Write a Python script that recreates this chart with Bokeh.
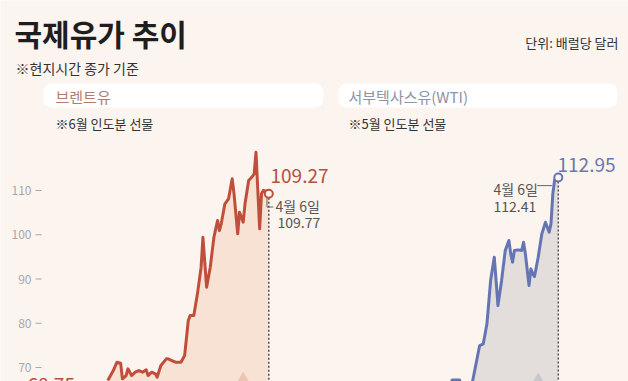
from bokeh.plotting import figure
from bokeh.models import Range1d, Label, BoxAnnotation
from bokeh.core.properties import value
from bokeh.embed import file_html
from bokeh.resources import INLINE

# ---------------- data ----------------
brent_days = [0, 3, 5, 7, 8, 10, 11, 13, 15, 17, 19, 21, 22, 24, 26, 27, 29, 32, 33, 35,
              37, 40, 42, 44, 45, 47, 49, 51, 52, 54, 56, 58, 59, 60, 61, 62, 64, 66, 67, 68,
              69, 71, 72, 73, 74, 75, 77, 79, 80, 81, 82, 83, 84, 85, 87, 88]
brent_price = [67.06, 69.32, 71.20, 70.98, 67.44, 68.19, 69.70, 68.19, 68.94, 69.32,
               68.94, 69.47, 68.19, 68.94, 68.57, 67.82, 70.45, 71.96, 71.96, 71.58,
               71.20, 71.20, 72.71, 80.62, 81.75, 81.75, 86.65, 92.67, 99.45, 88.15,
               92.67, 99.45, 101.34, 103.22, 100.96, 102.47, 106.99, 108.12, 110.38, 112.64,
               109.25, 100.21, 105.10, 103.97, 102.84, 106.99, 112.26, 113.16, 113.77, 118.66,
               110.00, 101.34, 109.25, 110.00, 109.77, 109.27]
brent_start_label = "68.75"

wti_days = [25, 27, 31, 33, 37, 42, 44, 46, 48, 50, 51, 52, 54, 56, 58, 59, 60, 61, 63, 65,
            66, 67, 69, 70, 71, 72, 74, 76, 78, 80, 81, 82, 83, 85]
wti_price = [64.50, 67.20, 67.20, 64.00, 64.50, 74.97, 75.35, 79.87, 89.66, 94.93,
             89.66, 84.01, 89.66, 96.44, 98.70, 95.69, 93.81, 96.44, 96.59, 96.44,
             98.32, 95.69, 88.53, 92.29, 91.17, 90.56, 94.93, 100.21, 102.84, 100.59,
             102.47, 109.25, 112.41, 112.95]

event_day = 74          # event marker (triangle) on both panels

y_ticks = [70, 80, 90, 100, 110]
y_tick_labels = ["70", "80", "90", "100", "110"]

title_text = "국제유가 추이"
subtitle_text = "※현지시간 종가 기준"
unit_text = "단위: 배럴당 달러"
panel_names = ["브렌트유", "서부텍사스유(WTI)"]
panel_notes = ["※6월 인도분 선물", "※5월 인도분 선물"]
prev_date = "4월 6일"

# ---------------- style ----------------
BG = "#FCF4EE"
RED = "#BF4F3B"
RED_TXT = "#B5513F"
RED_FILL = "#F8E2D3"
RED_MARK = "#ECC4B4"
BLUE = "#6574B3"
BLUE_TXT = "#6A78B0"
BLUE_FILL = "#E3DEDC"
BLUE_MARK = "#CAC6CE"
FONT = "Noto Sans CJK KR"
W, H = 628, 381

p = figure(width=W, height=H, output_backend="svg", toolbar_location=None,
           x_range=Range1d(-58.65, 284.61), y_range=Range1d(66.84, 152.94),
           x_axis_type=None, y_axis_type=None,
           min_border_left=0, min_border_right=0, min_border_top=0, min_border_bottom=0)
p.extra_x_ranges = {"wti": Range1d(-219.9, 123.37)}
p.background_fill_color = BG
p.border_fill_color = BG
p.outline_line_color = None
p.xgrid.visible = False
p.ygrid.visible = False

# y axis (labels + small tick dashes), drawn from the tick arrays
axis_x = -41.7
p.text(x=[axis_x] * len(y_ticks), y=y_ticks, text=y_tick_labels,
       text_align="right", text_baseline="middle", text_color="#A8A8A8",
       text_font=value(FONT), text_font_size="12px")
p.segment(x0=[axis_x + 2.2] * len(y_ticks), y0=y_ticks,
          x1=[axis_x + 5.5] * len(y_ticks), y1=y_ticks,
          line_color="#A8A8A8", line_width=1)

# header boxes
for l, r in [(43, 323), (338, 617)]:
    p.add_layout(BoxAnnotation(left=l, right=r, top=H - 83, bottom=H - 107,
                               left_units="screen", right_units="screen",
                               top_units="screen", bottom_units="screen",
                               fill_color="white", fill_alpha=1.0, line_color=None,
                               border_radius=8))

# areas
p.varea(x=brent_days, y1=60, y2=brent_price, fill_color=RED_FILL)
p.varea(x=wti_days, y1=60, y2=wti_price, fill_color=BLUE_FILL, x_range_name="wti")

# event markers (mostly below the visible area)
p.scatter([event_day], [65.7], marker="triangle", size=26, fill_color=RED_MARK,
          line_color=None)
p.scatter([event_day], [65.5], marker="triangle", size=26, fill_color=BLUE_MARK,
          line_color=None, x_range_name="wti")

# dotted verticals
p.segment(x0=[brent_days[-1]], y0=[brent_price[-1] - 0.9], x1=[brent_days[-1]], y1=[60],
          line_color="#505050", line_width=1.5, line_dash="2 2")
p.segment(x0=[wti_days[-1]], y0=[wti_price[-1] - 0.9], x1=[wti_days[-1]], y1=[60],
          line_color="#505050", line_width=1.5, line_dash="2 2", x_range_name="wti")

# lines
p.line(brent_days, brent_price, line_color=RED, line_width=3, line_join="round")
p.line(wti_days, wti_price, line_color=BLUE, line_width=3, line_join="round",
       x_range_name="wti")

# connectors for previous-day labels
bd, bp = brent_days[-2], brent_price[-2]
p.line([bd, bd, bd + 3.5], [bp - 1.0, bp - 3.5, bp - 3.5], line_color="#666666", line_width=1)
wd, wp = wti_days[-2], wti_price[-2]
p.line([wd - 9.5, wd - 1.5], [wp - 1.3, wp - 1.3], line_color="#666666", line_width=1,
       x_range_name="wti")

# end markers
p.scatter([brent_days[-1]], [brent_price[-1]], size=8, fill_color=BG, line_color=RED,
          line_width=2)
p.scatter([wti_days[-1]], [wti_price[-1]], size=8, fill_color=BG, line_color=BLUE,
          line_width=2, x_range_name="wti")


def lab(text, ix, iy, size, color, align="left", bold=False):
    # ix, iy: position in page pixels from the top-left corner
    p.add_layout(Label(x=ix, y=H - iy, x_units="screen", y_units="screen",
                       text=text, text_baseline="middle", text_align=align,
                       text_font=FONT, text_font_size=f"{size}px", text_color=color,
                       text_font_style="bold" if bold else "normal"))


lab(title_text, 14, 32, 30, "#1E1E1E", bold=True)
lab(subtitle_text, 15, 67, 14, "#333333")
lab(unit_text, 618, 42, 13, "#333333", align="right")
lab(panel_names[0], 55, 96, 15, "#B27D6D")
lab(panel_names[1], 348, 96, 15, "#8E93A6")
lab(panel_notes[0], 55, 123, 13, "#333333")
lab(panel_notes[1], 348, 123, 13, "#333333")

lab(f"{brent_price[-1]:.2f}", 270, 175, 19, RED_TXT)
lab(prev_date, 275, 205, 14, "#555555")
lab(f"{brent_price[-2]:.2f}", 277, 222, 14, "#555555")
lab(brent_start_label, 27, 384, 19, RED_TXT)

lab(f"{wti_price[-1]:.2f}", 557, 164, 19, BLUE_TXT)
lab(prev_date, 493, 188, 14, "#555555")
lab(f"{wti_price[-2]:.2f}", 493, 206, 14, "#555555")

html = file_html(p, INLINE)
html = html.replace("<body>", f'<body style="background-color:{BG};">', 1)
open("out.html", "w").write(html)
